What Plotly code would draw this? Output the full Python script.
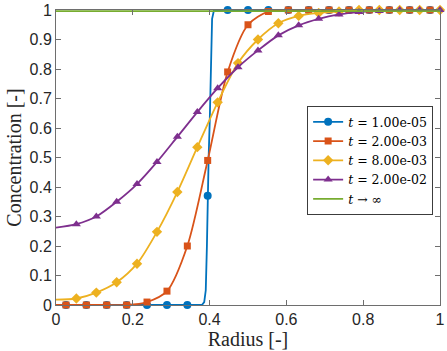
import plotly.graph_objects as go

# marker positions along the radius (two staggered sets)
r_mark_a = [0.026, 0.079, 0.132, 0.184, 0.237, 0.289, 0.342, 0.395, 0.447, 0.500,
            0.553, 0.605, 0.658, 0.711, 0.763, 0.816, 0.868, 0.921, 0.974]
r_mark_b = [0.053, 0.105, 0.158, 0.211, 0.263, 0.316, 0.368, 0.421, 0.474, 0.526,
            0.579, 0.632, 0.684, 0.737, 0.789, 0.842, 0.895, 0.947, 1.000]

# t = 1.00e-05 (steep front)
c_blue = [0, 0, 0, 0, 0, 0, 0, 0.37, 1.0, 1.0,
          1.0, 1.0, 1.0, 1.0, 1.0, 1.0, 1.0, 1.0, 1.0]
r_blue_line = [0, 0.380, 0.386, 0.390, 0.393, 0.395, 0.3975, 0.4005, 0.4035, 0.4065, 0.4115, 1.0]
c_blue_line = [0, 0, 0.01, 0.05, 0.2, 0.37, 0.5, 0.63, 0.85, 0.97, 1.0, 1.0]

# t = 2.00e-03
c_red = [0, 0, 0, 0, 0.01, 0.047, 0.20, 0.49, 0.79, 0.95,
         0.995, 1.0, 1.0, 1.0, 1.0, 1.0, 1.0, 1.0, 1.0]
c_red_start = 0.0
c_red_end = 1.0

# t = 8.00e-03
c_yellow = [0.022, 0.042, 0.077, 0.14, 0.248, 0.383, 0.535, 0.687, 0.82, 0.90,
            0.955, 0.98, 0.99, 0.995, 1.0, 1.0, 1.0, 1.0, 1.0]
c_yellow_start = 0.018

# t = 2.00e-02
c_purple = [0.274, 0.30, 0.35, 0.41, 0.485, 0.57, 0.654, 0.735, 0.806, 0.863,
            0.914, 0.948, 0.97, 0.985, 0.993, 0.997, 1.0, 1.0, 1.0]
c_purple_start = 0.262

# steady state
r_inf = [0, 1]
c_inf = [0.996, 0.996]

x_ticks = [0, 0.2, 0.4, 0.6, 0.8, 1]
x_labels = ["0", "0.2", "0.4", "0.6", "0.8", "1"]
y_ticks = [0, 0.1, 0.2, 0.3, 0.4, 0.5, 0.6, 0.7, 0.8, 0.9, 1]
y_labels = ["0", "0.1", "0.2", "0.3", "0.4", "0.5", "0.6", "0.7", "0.8", "0.9", "1"]

names = ["<i>t</i> = 1.00e-05", "<i>t</i> = 2.00e-03", "<i>t</i> = 8.00e-03",
         "<i>t</i> = 2.00e-02", "<i>t</i> \u2192 \u221e"]
colors = ["#0072BD", "#D95319", "#EDB120", "#7E2F8E", "#77AC30"]
symbols = ["circle", "square", "diamond", "triangle-up"]
sizes = [8, 7, 8, 8]

lw = 1.8

line_data = [
    (r_blue_line, c_blue_line, "linear"),
    ([0] + r_mark_a + [1.0], [c_red_start] + c_red + [c_red_end], "spline"),
    ([0] + r_mark_b, [c_yellow_start] + c_yellow, "spline"),
    ([0] + r_mark_b, [c_purple_start] + c_purple, "spline"),
]
mark_data = [
    (r_mark_a, c_blue),
    (r_mark_a, c_red),
    (r_mark_b, c_yellow),
    (r_mark_b, c_purple),
]

fig = go.Figure()

for i in range(4):
    lx, ly, shape = line_data[i]
    fig.add_trace(go.Scatter(
        x=lx, y=ly, mode="lines",
        line=dict(color=colors[i], width=lw, shape=shape, smoothing=0.8),
        showlegend=False, cliponaxis=False,
    ))
    mx, my = mark_data[i]
    fig.add_trace(go.Scatter(
        x=mx, y=my, mode="markers",
        marker=dict(color=colors[i], symbol=symbols[i], size=sizes[i], line=dict(width=0)),
        showlegend=False, cliponaxis=False,
    ))
    # legend entry showing both line and marker
    fig.add_trace(go.Scatter(
        x=[None], y=[None], mode="lines+markers", name=names[i],
        line=dict(color=colors[i], width=lw),
        marker=dict(color=colors[i], symbol=symbols[i], size=sizes[i], line=dict(width=0)),
    ))

fig.add_trace(go.Scatter(
    x=r_inf, y=c_inf, mode="lines", name=names[4],
    line=dict(color=colors[4], width=lw),
))

axis_col = "rgb(110,110,110)"
text_col = "rgb(38,38,38)"
tick_font = dict(family="Liberation Sans", size=16, color=text_col)
title_font = dict(family="Liberation Serif", size=20, color=text_col)

fig.update_layout(
    width=447,
    height=351,
    margin=dict(l=56, r=7, t=10, b=46),
    plot_bgcolor="white",
    paper_bgcolor="white",
    xaxis=dict(
        range=[0, 1],
        tickmode="array", tickvals=x_ticks, ticktext=x_labels,
        ticks="inside", ticklen=5, tickcolor=axis_col, tickwidth=1,
        showline=True, linecolor=axis_col, linewidth=1, mirror="ticks",
        showgrid=False, zeroline=False, automargin=False,
        tickfont=tick_font,
        title=dict(text="Radius [-]", font=title_font, standoff=1),
    ),
    yaxis=dict(
        range=[0, 1],
        tickmode="array", tickvals=y_ticks, ticktext=y_labels,
        ticks="inside", ticklen=5, tickcolor=axis_col, tickwidth=1,
        showline=True, linecolor=axis_col, linewidth=1, mirror="ticks",
        showgrid=False, zeroline=False, automargin=False,
        tickfont=tick_font,
        title=dict(text="Concentration [-]", font=title_font, standoff=2),
    ),
    legend=dict(
        x=0.654, y=0.674, xanchor="left", yanchor="top",
        bgcolor="white", bordercolor="rgb(60,60,60)", borderwidth=1,
        font=dict(family="DejaVu Serif", size=12.5, color="black"),
    ),
)

# drop the default page margin so the figure sits at the window's corner
fig.write_html("out.html", config={"displayModeBar": False},
               post_script="document.body.style.margin='0';")
